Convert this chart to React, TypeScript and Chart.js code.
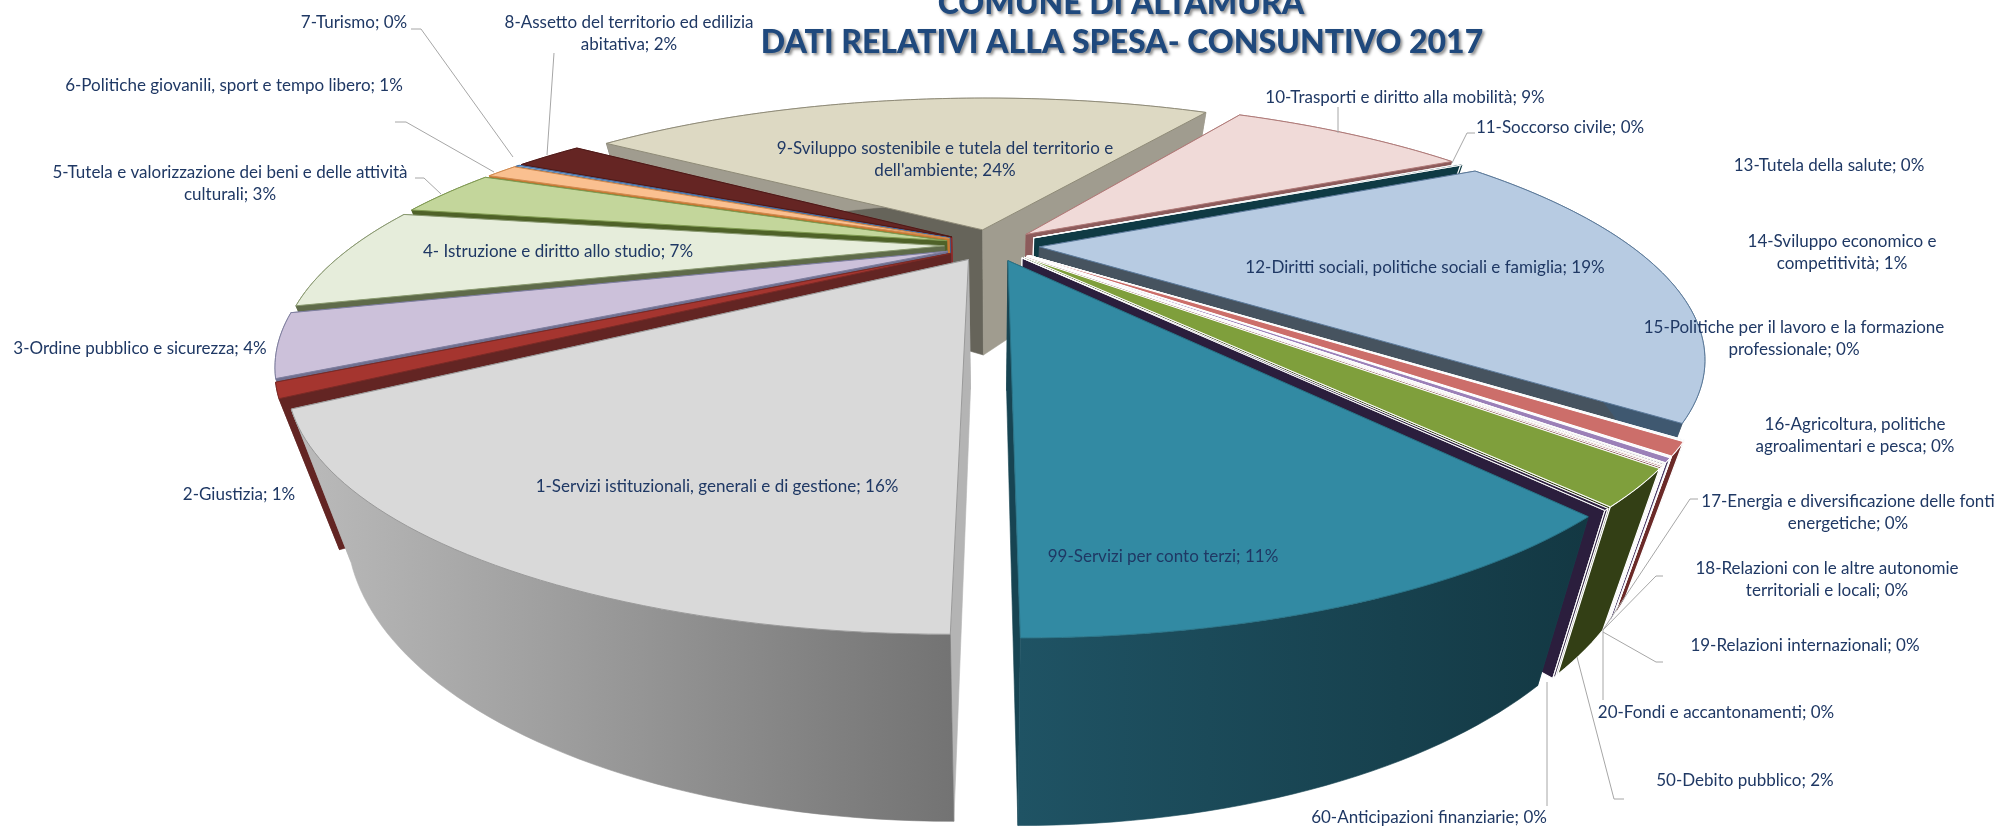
import React, { useEffect, useRef } from "react";
import { Chart, registerables } from "chart.js";

Chart.register(...registerables);

// ---------- data ----------
const categories = [
  "1-Servizi istituzionali, generali e di gestione",
  "2-Giustizia",
  "3-Ordine pubblico e sicurezza",
  "4- Istruzione e diritto allo studio",
  "5-Tutela e valorizzazione dei beni e delle attività|culturali",
  "6-Politiche giovanili, sport e tempo libero",
  "7-Turismo",
  "8-Assetto del territorio ed edilizia|abitativa",
  "9-Sviluppo sostenibile e tutela del territorio e|dell'ambiente",
  "10-Trasporti e diritto alla mobilità",
  "11-Soccorso civile",
  "12-Diritti sociali, politiche sociali e famiglia",
  "13-Tutela della salute",
  "14-Sviluppo economico e|competitività",
  "15-Politiche per il lavoro e la formazione|professionale",
  "16-Agricoltura, politiche|agroalimentari e pesca",
  "17-Energia e diversificazione delle fonti|energetiche",
  "18-Relazioni con le altre autonomie|territoriali e locali",
  "19-Relazioni internazionali",
  "20-Fondi e accantonamenti",
  "50-Debito pubblico",
  "60-Anticipazioni finanziarie",
  "99-Servizi per conto terzi",
];
const values = [15.9, 0.9, 3.9, 7.0, 3.45, 1.1, 0.15, 2.35, 24.0, 8.7, 0.1, 18.55, 0.05, 0.75, 0.05, 0.25, 0.05, 0.05, 0.05, 0.05, 2.0, 0.1, 10.51];
const shownPercents = [16, 1, 4, 7, 3, 1, 0, 2, 24, 9, 0, 19, 0, 1, 0, 0, 0, 0, 0, 0, 2, 0, 11];
const titleLines = ["COMUNE DI ALTAMURA", "DATI RELATIVI ALLA SPESA- CONSUNTIVO 2017"];

// ---------- palette ----------
const topColors = ["#D9D9D9", "#A5352F", "#CCC1DA", "#E6EDDB", "#C3D69B", "#FAC090", "#95B3D7", "#652523", "#DDD9C3", "#F0DAD8", "#0F3A44", "#B7CBE2", "#E0E8F2", "#CC6E6A", "#E8E0F0", "#9B80B8", "#DDE8C8", "#2B1E3D", "#F5D5B5", "#7A2B28", "#7F9F3C", "#2B1E3D", "#328AA3"];
const edgeColors = ["#9A9A9A", "#7A2A26", "#7F7F9F", "#8A9A70", "#7F9A50", "#D08A50", "#3F6FA5", "#4A1A18", "#8F8B78", "#B07A78", "#FFFFFF", "#5B7A9B", "#FFFFFF", "#FFFFFF", "#FFFFFF", "#FFFFFF", "#FFFFFF", "#FFFFFF", "#FFFFFF", "#FFFFFF", "#FFFFFF", "#FFFFFF", "#2A7488"];
const wallStart = ["#B4B4B4", "#632523", "#6F6F8F", "#5F6B4A", "#4F6228", "#C87830", "#376092", "#8E2A2A", "#66645A", "#A86F6C", "#0F3A44", "#44546A", "#44546A", "#6B2A28", "#44546A", "#4A3A66", "#44546A", "#2B1E3D", "#6B2A28", "#6B2A28", "#333F15", "#2B1E3D", "#174452"];
const wallEnd = ["#B4B4B4", "#632523", "#6F6F8F", "#5F6B4A", "#4F6228", "#C87830", "#376092", "#8E2A2A", "#A09C8F", "#8C5B5B", "#0F3A44", "#46535F", "#44546A", "#6B2A28", "#44546A", "#4A3A66", "#44546A", "#2B1E3D", "#6B2A28", "#6B2A28", "#333F15", "#2B1E3D", "#174452"];
const wallRimFrom = ["#BBBBBB", "#632523", "#6F6F8F", "#5F6B4A", "#4F6228", "#C87830", "#376092", "#8E2A2A", "#A09C8F", "#8C5B5B", "#0F3A44", "#3F5870", "#44546A", "#6B2A28", "#44546A", "#4A3A66", "#44546A", "#2B1E3D", "#6B2A28", "#6B2A28", "#333F15", "#2B1E3D", "#1F5364"];
const wallRimTo = ["#737373", "#632523", "#6F6F8F", "#5F6B4A", "#4F6228", "#C87830", "#376092", "#8E2A2A", "#A09C8F", "#8C5B5B", "#0F3A44", "#3F5870", "#44546A", "#6B2A28", "#44546A", "#4A3A66", "#44546A", "#2B1E3D", "#6B2A28", "#6B2A28", "#333F15", "#2B1E3D", "#133843"];

// ---------- layout of the labels: [centre x, first line y] ----------
const labelAt: [number, number][] = [
  [717, 487], [239, 495], [140, 349], [558, 252], [230, 173], [234, 86], [354, 23], [629, 23],
  [945, 149], [1405, 98], [1560, 128], [1425, 268], [1829, 166], [1842, 242], [1794, 328],
  [1855, 425], [1848, 502], [1827, 569], [1805, 646], [1716, 713], [1745, 781], [1429, 818], [1163, 557],
];
const leaders: [number, number][][] = [
  [[411, 29], [421, 29], [513, 157]],
  [[554, 53], [547, 155]],
  [[395, 122], [406, 122], [494, 172]],
  [[415, 178], [424, 178], [441, 194]],
  [[1338, 107], [1338, 133]],
  [[1475, 133], [1467, 133], [1452, 163]],
  [[1698, 499], [1690, 499], [1603, 630]],
  [[1663, 576], [1656, 576], [1603, 630]],
  [[1663, 662], [1656, 662], [1603, 632]],
  [[1603, 700], [1603, 630]],
  [[1624, 799], [1614, 799], [1577, 657]],
  [[1547, 806], [1547, 682]],
];

// ---------- perspective of the pie's plane ----------
const CX = 992, CY = 245, KX = 590, KY = 198.5, PERSP = 0.424;
const project = (u: number, v: number): [number, number] => {
  const w = 1 - PERSP * v;
  return [CX + (KX * u) / w, CY + (KY * v) / w];
};
const dropX = 0.915, dropYScale = 1.153, dropY = 90;
const lower = (p: [number, number]): [number, number] => [CX + (p[0] - CX) * dropX, p[1] * dropYScale + dropY];

const poly = (ctx: CanvasRenderingContext2D, pts: [number, number][]) => {
  ctx.beginPath();
  pts.forEach((p, i) => (i ? ctx.lineTo(p[0], p[1]) : ctx.moveTo(p[0], p[1])));
  ctx.closePath();
};

const pie3d = {
  id: "pie3d",
  beforeDatasetDraw(chart: any) {
    const ctx: CanvasRenderingContext2D = chart.ctx;
    const arcs: any[] = chart.getDatasetMeta(0).data;
    const order = arcs
      .map((a, i) => ({ a, i, mid: (a.startAngle + a.endAngle) / 2 }))
      .sort((p, q) => Math.sin(p.mid) - Math.sin(q.mid));
    ctx.save();
    ctx.lineJoin = "round";
    for (const { a, i, mid } of order) {
      const e = a.options.offset / a.outerRadius;
      const ou = e * Math.cos(mid), ov = e * Math.sin(mid);
      const apex = project(ou, ov);
      const rim: [number, number][] = [];
      const steps = Math.max(1, Math.ceil((a.endAngle - a.startAngle) / 0.02));
      for (let s = 0; s <= steps; s++) {
        const t = a.startAngle + ((a.endAngle - a.startAngle) * s) / steps;
        rim.push(project(ou + Math.cos(t), ov + Math.sin(t)));
      }
      const white = a.options.borderColor === "#FFFFFF";
      const paint = (pts: [number, number][], fill: any) => {
        poly(ctx, pts);
        ctx.fillStyle = fill;
        ctx.fill();
        ctx.strokeStyle = white ? "#FFFFFF" : fill;
        ctx.lineWidth = white ? 1.2 : 0.6;
        ctx.stroke();
      };
      const first = rim[0], last = rim[rim.length - 1];
      paint([apex, first, lower(first), lower(apex)], wallStart[i]);
      paint([apex, last, lower(last), lower(apex)], wallEnd[i]);
      const low = rim.map(lower).reverse();
      const xs = rim.concat(low).map((p) => p[0]);
      const g = ctx.createLinearGradient(Math.min(...xs), 0, Math.max(...xs), 0);
      g.addColorStop(0, wallRimFrom[i]);
      g.addColorStop(1, wallRimTo[i]);
      paint(rim.concat(low), g);
      poly(ctx, [apex, ...rim]);
      ctx.fillStyle = a.options.backgroundColor;
      ctx.fill();
      ctx.strokeStyle = a.options.borderColor;
      ctx.lineWidth = a.options.borderWidth;
      ctx.stroke();
    }
    ctx.restore();
    return false;
  },
  afterDraw(chart: any) {
    const ctx: CanvasRenderingContext2D = chart.ctx;
    ctx.save();
    // leader lines
    ctx.strokeStyle = "#A6A6A6";
    ctx.lineWidth = 1;
    for (const l of leaders) {
      ctx.beginPath();
      l.forEach((p, i) => (i ? ctx.lineTo(p[0], p[1]) : ctx.moveTo(p[0], p[1])));
      ctx.stroke();
    }
    // slice labels
    ctx.font = '17px "Lato"';
    ctx.fillStyle = "#1F3864";
    ctx.textAlign = "center";
    ctx.textBaseline = "middle";
    categories.forEach((c, i) => {
      const lines = `${c}; ${shownPercents[i]}%`.split("|");
      lines.forEach((t, j) => ctx.fillText(t, labelAt[i][0], labelAt[i][1] + j * 22));
    });
    // title
    ctx.font = '900 32px "Lato"';
    ctx.fillStyle = "#1F497D";
    ctx.shadowColor = "rgba(0,0,0,0.45)";
    ctx.shadowBlur = 3;
    ctx.shadowOffsetX = 2;
    ctx.shadowOffsetY = 2;
    ctx.fillText(titleLines[0], 1121, 4);
    ctx.fillText(titleLines[1], 1122, 43);
    ctx.restore();
  },
};

export default function App() {
  const ref = useRef<HTMLCanvasElement>(null);
  useEffect(() => {
    const chart = new Chart(ref.current as HTMLCanvasElement, {
      type: "pie",
      data: {
        labels: categories.map((c) => c.replace("|", " ")),
        datasets: [
          {
            data: values,
            backgroundColor: topColors,
            borderColor: edgeColors,
            borderWidth: 1,
            offset: 32,
          },
        ],
      },
      options: {
        responsive: false,
        animation: false,
        devicePixelRatio: 1,
        rotation: 180,
        layout: { padding: 0 },
        plugins: { legend: { display: false }, tooltip: { enabled: false }, title: { display: false } },
      },
      plugins: [pie3d],
    } as any);
    return () => chart.destroy();
  }, []);
  return (
    <div style={{ position: "fixed", left: 0, top: 0, width: 1997, height: 827, background: "#fff" }}>
      <canvas ref={ref} width={1997} height={827} style={{ display: "block" }} />
    </div>
  );
}
